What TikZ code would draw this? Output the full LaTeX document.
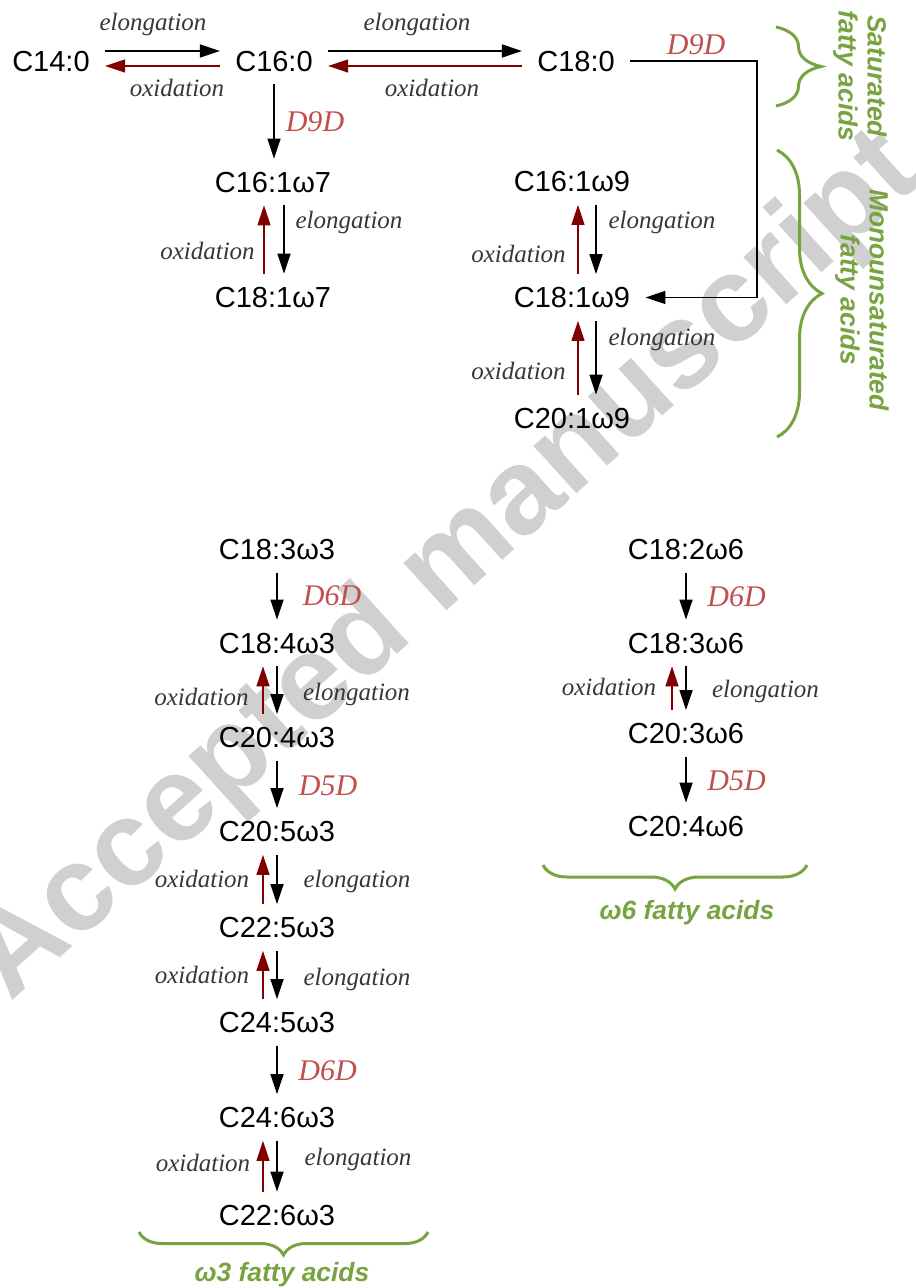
\documentclass[tikz,border=0pt]{standalone}
\usepackage{fontspec}
\setmainfont{Liberation Serif}
\setsansfont{Liberation Sans}
\usetikzlibrary{arrows.meta,decorations.pathreplacing}
\definecolor{oxred}{RGB}{128,0,0}
\definecolor{enzred}{RGB}{192,80,77}
\definecolor{fagreen}{RGB}{119,163,64}
\definecolor{labgray}{RGB}{55,55,55}
\definecolor{wmgray}{RGB}{208,208,208}
\begin{document}
\begin{tikzpicture}[x=0.5pt,y=-0.5pt,
    acid/.style={font=\sffamily\fontsize{14.5}{17}\selectfont,inner xsep=7.5pt,inner ysep=0pt,
      text height=10.4pt,text depth=0pt,minimum height=23pt},
    elo/.style={-{Triangle[length=10pt,width=6.5pt]},line width=0.8pt},
    oxi/.style={-{Triangle[length=10pt,width=6.5pt]},line width=0.7pt,oxred},
    tag/.style={font=\itshape\fontsize{12.5}{15}\selectfont,text=labgray,inner sep=0pt},
    enz/.style={font=\itshape\fontsize{15}{18}\selectfont,text=enzred,inner sep=0pt},
    grp/.style={font=\sffamily\bfseries\itshape\fontsize{13.2}{14.5}\selectfont,text=fagreen,
      align=center,inner sep=0pt},
    brc/.style={decorate,decoration={brace,amplitude=#1},fagreen,line width=1.5pt},
    brc/.default=12pt]
  \useasboundingbox (0,0) rectangle (915,1288);
  % watermark
  \node[font=\sffamily\bfseries\fontsize{60.5}{60.5}\selectfont,text=wmgray,rotate=42] (wmark)
    at (447,568) {Accepted manuscript};
  % saturated
  \node[acid] (c140) at (51,61) {C14:0};
  \node[acid] (c160) at (274,61) {C16:0};
  \node[acid] (c180) at (576,61) {C18:0};
  \draw[elo] ([yshift=5pt]c140.east) -- ([yshift=5pt]c160.west);
  \draw[oxi] ([yshift=-2.5pt]c160.west) -- ([yshift=-2.5pt]c140.east);
  \draw[elo] ([yshift=5pt]c160.east) -- ([yshift=5pt]c180.west);
  \draw[oxi] ([yshift=-2.5pt]c180.west) -- ([yshift=-2.5pt]c160.east);
  \node[tag] (el1) at (153,24) {elongation};
  \node[tag] (ox1) at (177,87.5) {oxidation};
  \node[tag] (el2) at (417,24) {elongation};
  \node[tag] (ox2) at (432,87.5) {oxidation};
  % monounsaturated
  \node[acid] (c161w7) at (273,182) {C16:1ω7};
  \node[acid] (c181w7) at (273,297) {C18:1ω7};
  \node[acid] (c161w9) at (572,181.5) {C16:1ω9};
  \node[acid] (c181w9) at (572,297.5) {C18:1ω9};
  \node[acid] (c201w9) at (572,418) {C20:1ω9};
  \draw[elo] (c160.south) -- (c160.south |- c161w7.north);
  \node[enz] (d9a) at (315,122) {D9D};
  \coordinate (kink) at (757,61);
  \draw[elo] (c180.east) -- (kink) |- (c181w9.east);
  \node[enz] (d9b) at (696,45) {D9D};
  \draw[elo] ([xshift=5.5pt]c161w7.south) -- ([xshift=5.5pt]c181w7.north);
  \draw[oxi] ([xshift=-4.5pt]c181w7.north) -- ([xshift=-4.5pt]c161w7.south);
  \node[tag] (el3) at (349,222) {elongation};
  \node[tag] (ox3) at (207.5,250.5) {oxidation};
  \foreach \a/\b in {c161w9/c181w9,c181w9/c201w9}{
    \draw[elo] ([xshift=12pt]\a.south) -- ([xshift=12pt]\b.north);
    \draw[oxi] ([xshift=3pt]\b.north) -- ([xshift=3pt]\a.south);
  }
  \node[tag] (el4) at (662,222.5) {elongation};
  \node[tag] (ox4) at (518.5,254) {oxidation};
  \node[tag] (el5) at (662,339.5) {elongation};
  \node[tag] (ox5) at (518.5,371) {oxidation};
  % omega-3
  \node[acid] (c183w3) at (277,549.5) {C18:3ω3};
  \node[acid] (c184w3) at (277,643) {C18:4ω3};
  \node[acid] (c204w3) at (277,737.5) {C20:4ω3};
  \node[acid] (c205w3) at (277,831.5) {C20:5ω3};
  \node[acid] (c225w3) at (277,927.5) {C22:5ω3};
  \node[acid] (c245w3) at (277,1022.5) {C24:5ω3};
  \node[acid] (c246w3) at (277,1117.5) {C24:6ω3};
  \node[acid] (c226w3) at (277,1215) {C22:6ω3};
  % omega-6
  \node[acid] (c182w6) at (686,549.5) {C18:2ω6};
  \node[acid] (c183w6) at (686,643) {C18:3ω6};
  \node[acid] (c203w6) at (686,733.5) {C20:3ω6};
  \node[acid] (c204w6) at (686,826) {C20:4ω6};
  \foreach \a/\b in {c183w3/c184w3,c204w3/c205w3,c245w3/c246w3,c182w6/c183w6,c203w6/c204w6}
    \draw[elo] (\a.south) -- (\b.north);
  \foreach \a/\b in {c184w3/c204w3,c205w3/c225w3,c225w3/c245w3,c246w3/c226w3,c183w6/c203w6}{
    \draw[elo] (\a.south) -- (\b.north);
    \draw[oxi] ([xshift=-7pt]\b.north) -- ([xshift=-7pt]\a.south);
  }
  \node[enz] (d6a) at (332,596) {D6D};
  \node[enz] (d5a) at (328,785.5) {D5D};
  \node[enz] (d6b) at (327.5,1070.5) {D6D};
  \node[enz] (d6c) at (736.5,596.5) {D6D};
  \node[enz] (d5b) at (736.5,781) {D5D};
  \node[tag] (ox6) at (201.5,696.5) {oxidation};
  \node[tag] (el6) at (356.5,694) {elongation};
  \node[tag] (ox7) at (202,879) {oxidation};
  \node[tag] (el7) at (357,881) {elongation};
  \node[tag] (ox8) at (202,975) {oxidation};
  \node[tag] (el8) at (357,979) {elongation};
  \node[tag] (ox9) at (203,1163) {oxidation};
  \node[tag] (el9) at (358,1159) {elongation};
  \node[tag] (ox10) at (609,686.5) {oxidation};
  \node[tag] (el10) at (765.5,691) {elongation};
  % groups
  \draw[brc=22.5pt] (776,27) -- (776,106);
  \draw[brc=22.5pt] (777,150) -- (777,437);
  \draw[brc] (807,865) -- (543,865);
  \draw[brc=11.5pt] (428,1232) -- (139,1232);
  \node[grp,rotate=-90] (satlab) at (860,76) {Saturated\\fatty acids};
  \node[grp,rotate=-90] (monolab) at (862,300) {Monounsaturated\\fatty acids};
  \node[grp] (w6lab) at (687,913) {ω6 fatty acids};
  \node[grp] (w3lab) at (282,1275) {ω3 fatty acids};
\end{tikzpicture}
\end{document}
